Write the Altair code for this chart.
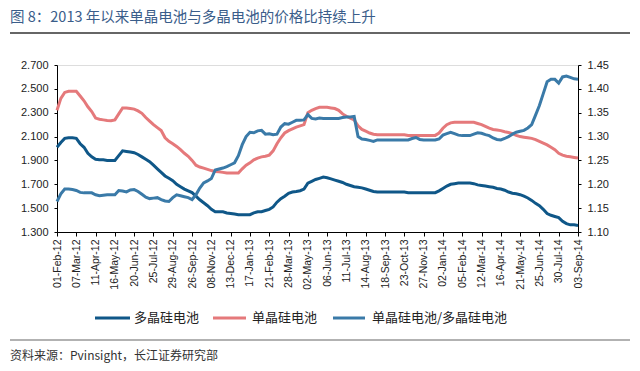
import altair as alt
import pandas as pd

# ---------------- data ----------------
tick_labels = ["01-Feb-12", "07-Mar-12", "11-Apr-12", "16-May-12", "20-Jun-12", "25-Jul-12",
               "29-Aug-12", "26-Sep-12", "08-Nov-12", "13-Dec-12", "17-Jan-13", "21-Feb-13",
               "28-Mar-13", "02-May-13", "06-Jun-13", "11-Jul-13", "14-Aug-13", "18-Sep-13",
               "23-Oct-13", "27-Nov-13", "02-Jan-14", "05-Feb-14", "12-Mar-14", "16-Apr-14",
               "21-May-14", "25-Jun-14", "30-Jul-14", "03-Sep-14"]

poly = [2.01, 2.05, 2.085, 2.09, 2.09, 2.085, 2.04, 2.01, 1.96, 1.93,
        1.91, 1.905, 1.905, 1.90, 1.90, 1.90, 1.94, 1.98, 1.975, 1.97,
        1.965, 1.95, 1.93, 1.91, 1.89, 1.86, 1.83, 1.80, 1.77, 1.75,
        1.73, 1.70, 1.68, 1.66, 1.645, 1.63, 1.60, 1.57, 1.545, 1.52,
        1.49, 1.47, 1.47, 1.47, 1.46, 1.455, 1.45, 1.445, 1.445, 1.445,
        1.445, 1.46, 1.47, 1.47, 1.48, 1.49, 1.51, 1.55, 1.58, 1.60,
        1.625, 1.635, 1.64, 1.646, 1.66, 1.71, 1.725, 1.74, 1.75, 1.76,
        1.755, 1.745, 1.735, 1.725, 1.715, 1.70, 1.69, 1.68, 1.675, 1.67,
        1.66, 1.65, 1.64, 1.635, 1.635, 1.635, 1.635, 1.635, 1.635, 1.635,
        1.635, 1.63, 1.63, 1.63, 1.63, 1.63, 1.63, 1.63, 1.63, 1.645,
        1.665, 1.685, 1.70, 1.705, 1.71, 1.71, 1.71, 1.71, 1.705, 1.695,
        1.69, 1.685, 1.68, 1.675, 1.665, 1.66, 1.65, 1.635, 1.625, 1.62,
        1.613, 1.60, 1.585, 1.565, 1.54, 1.52, 1.49, 1.455, 1.44, 1.43,
        1.42, 1.39, 1.37, 1.36, 1.36, 1.355]

mono = [2.32, 2.42, 2.47, 2.48, 2.48, 2.48, 2.44, 2.40, 2.35, 2.31,
        2.255, 2.245, 2.24, 2.235, 2.232, 2.24, 2.29, 2.34, 2.34, 2.335,
        2.33, 2.315, 2.295, 2.26, 2.23, 2.20, 2.175, 2.15, 2.09, 2.06,
        2.04, 2.017, 1.99, 1.96, 1.935, 1.90, 1.86, 1.845, 1.835, 1.825,
        1.815, 1.808, 1.805, 1.80, 1.794, 1.794, 1.794, 1.794, 1.83, 1.86,
        1.88, 1.905, 1.92, 1.93, 1.935, 1.945, 1.98, 2.04, 2.09, 2.13,
        2.15, 2.165, 2.18, 2.19, 2.20, 2.30, 2.32, 2.335, 2.345, 2.345,
        2.345, 2.34, 2.335, 2.32, 2.29, 2.27, 2.255, 2.24, 2.19, 2.16,
        2.145, 2.13, 2.12, 2.115, 2.115, 2.115, 2.115, 2.115, 2.115, 2.115,
        2.115, 2.11, 2.11, 2.11, 2.11, 2.11, 2.11, 2.11, 2.11, 2.13,
        2.17, 2.20, 2.215, 2.22, 2.22, 2.22, 2.22, 2.22, 2.22, 2.21,
        2.20, 2.185, 2.17, 2.16, 2.155, 2.15, 2.14, 2.135, 2.125, 2.11,
        2.10, 2.095, 2.09, 2.085, 2.075, 2.06, 2.045, 2.03, 2.01, 1.99,
        1.96, 1.945, 1.935, 1.93, 1.925, 1.92]

ratio = [1.164, 1.18, 1.19, 1.19, 1.189, 1.187, 1.183, 1.182, 1.182, 1.182,
         1.178, 1.176, 1.177, 1.178, 1.178, 1.178, 1.187, 1.186, 1.184, 1.188,
         1.189, 1.185, 1.179, 1.173, 1.170, 1.171, 1.172, 1.168, 1.165, 1.164,
         1.172, 1.178, 1.176, 1.174, 1.172, 1.168, 1.178, 1.192, 1.203, 1.207,
         1.212, 1.23, 1.232, 1.234, 1.237, 1.241, 1.245, 1.26, 1.283, 1.30,
         1.309, 1.308, 1.312, 1.313, 1.305, 1.306, 1.304, 1.305, 1.32, 1.327,
         1.326, 1.33, 1.334, 1.334, 1.335, 1.346, 1.338, 1.337, 1.339, 1.338,
         1.338, 1.338, 1.338, 1.338, 1.340, 1.341, 1.341, 1.342, 1.30, 1.295,
         1.294, 1.292, 1.29, 1.293, 1.293, 1.293, 1.293, 1.293, 1.293, 1.293,
         1.293, 1.293, 1.296, 1.298, 1.294, 1.293, 1.293, 1.293, 1.293, 1.295,
         1.303, 1.306, 1.309, 1.306, 1.303, 1.302, 1.302, 1.302, 1.305, 1.308,
         1.307, 1.304, 1.302, 1.297, 1.294, 1.293, 1.296, 1.30, 1.305, 1.309,
         1.311, 1.313, 1.318, 1.325, 1.345, 1.365, 1.39, 1.415, 1.42, 1.42,
         1.412, 1.425, 1.427, 1.424, 1.421, 1.42]

series_names = ["多晶硅电池", "单晶硅电池", "单晶硅电池/多晶硅电池"]
series_colors = ["#0f5788", "#e5797b", "#3a7aa8"]

title_text = "图 8：2013 年以来单晶电池与多晶电池的价格比持续上升"
source_text = "资料来源：Pvinsight，长江证券研究部"

# ---------------- build ----------------
n = len(poly)
df = pd.DataFrame({"idx": list(range(n)),
                   series_names[0]: poly, series_names[1]: mono, "ratio": ratio})

label_expr = "[" + ",".join("'%s'" % t for t in tick_labels) + "][round(datum.value/5)]"

W, H = 521, 167
FONT = "Liberation Sans"
CJK = "Noto Sans CJK SC"

x_enc = alt.X("idx:Q",
              scale=alt.Scale(domain=[0, n - 1], nice=False, zero=False),
              axis=alt.Axis(values=list(range(0, n, 5)), labelExpr=label_expr,
                            labelAngle=270, labelAlign="right", labelBaseline="middle",
                            labelFontSize=10.5, labelFont=FONT, labelColor="#222",
                            tickSize=4, tickColor="#000", domainColor="#000",
                            labelPadding=3, grid=False, title=None, labelOverlap=False))

left = alt.Chart(df).transform_fold(
    [series_names[0], series_names[1]], as_=["series", "value"]
).mark_line(strokeWidth=3).encode(
    x=x_enc,
    y=alt.Y("value:Q", scale=alt.Scale(domain=[1.3, 2.7], nice=False, zero=False),
            axis=alt.Axis(values=[1.3, 1.5, 1.7, 1.9, 2.1, 2.3, 2.5, 2.7], format=".3f",
                          orient="left", labelFontSize=11, labelFont=FONT, labelColor="#222",
                          tickSize=3, tickColor="#000", domainColor="#000", grid=False,
                          title=None, labelPadding=6)),
    color=alt.Color("series:N",
                    scale=alt.Scale(domain=series_names[:2], range=series_colors[:2]),
                    legend=None),
)

ratio_line = alt.Chart(df).mark_line(color=series_colors[2], strokeWidth=3).encode(
    x=x_enc,
    y=alt.Y("ratio:Q", scale=alt.Scale(domain=[1.10, 1.45], nice=False, zero=False),
            axis=alt.Axis(values=[1.10, 1.15, 1.20, 1.25, 1.30, 1.35, 1.40, 1.45], format=".2f",
                          orient="right", labelFontSize=11, labelFont=FONT, labelColor="#222",
                          tickSize=3, tickColor="#000", domainColor="#000", grid=False,
                          title=None, labelPadding=6)))

one = pd.DataFrame({"a": [0]})

def text_at(txt, x, y, size, color, font=CJK, align="left"):
    return alt.Chart(pd.DataFrame({"t": [txt]})).mark_text(
        align=align, baseline="middle", fontSize=size, font=font, color=color
    ).encode(x=alt.value(x), y=alt.value(y), text="t:N")

def rule_at(x1, x2, y, color, width):
    return alt.Chart(one).mark_rule(color=color, strokeWidth=width).encode(
        x=alt.value(x1), x2=alt.value(x2), y=alt.value(y))

# plot origin is at page (57, 65)
ox, oy = 57, 65
title = text_at(title_text, 10 - ox, 18 - oy, 14.5, "#3a5d8a")
title_rule = rule_at(10 - ox, 630 - ox, 33 - oy, "#333333", 1.5)
source_rule = rule_at(10 - ox, 630 - ox, 340 - oy, "#666666", 1.2)
source = text_at(source_text, 10 - ox, 356 - oy, 12, "#333333")

legend_layers = []
leg = [(95, 130, 134), (213, 246, 252), (333, 365, 372)]
for (x1, x2, tx), name, col in zip(leg, series_names, series_colors):
    legend_layers.append(rule_at(x1 - ox, x2 - ox, 318 - oy, col, 3))
    legend_layers.append(text_at(name, tx - ox, 318 - oy, 13, "#222222"))

chart = alt.layer(left, ratio_line).resolve_scale(y="independent", color="independent")
chart = alt.layer(chart, title, title_rule, source_rule, source, *legend_layers).properties(
    width=W, height=H,
    autosize=alt.AutoSizeParams(type="none"),
    padding={"left": ox - 8, "top": oy - 8, "right": 624 - (ox - 8) - W, "bottom": 355 - (oy - 8) - H},
).configure_view(stroke=None).configure(background="white")

chart.save("out.html", embed_options={"renderer": "svg", "actions": False})
